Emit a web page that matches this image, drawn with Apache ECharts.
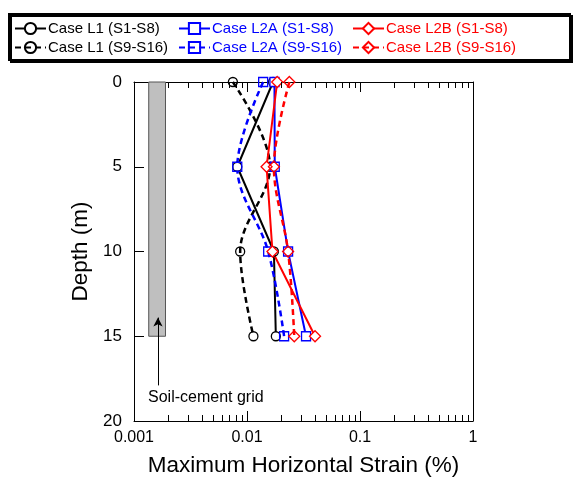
<!DOCTYPE html>
<html>
<head>
<meta charset="utf-8">
<script src="https://cdn.jsdelivr.net/npm/echarts@6/dist/echarts.min.js"></script>
<style>
  html, body { margin: 0; padding: 0; background: #fff; }
  #main { width: 576px; height: 479px; }
</style>
</head>
<body>
<div id="main"></div>
<script>
// depth of the readings (m)
var depths = [0, 5, 10, 15]
// maximum horizontal strain (%)
var l1_s1 = [0.0170, 0.0082, 0.0173, 0.0180]
var l1_s9 = [0.0075, 0.0160, 0.0087, 0.0114]
var l2a_s1 = [0.0175, 0.0176, 0.0231, 0.0333]
var l2a_s9 = [0.0139, 0.0082, 0.0154, 0.0213]
var l2b_s1 = [0.0185, 0.0149, 0.0168, 0.0400]
var l2b_s9 = [0.0237, 0.0173, 0.0231, 0.0262]

var seriesNames = ['Case L1 (S1-S8)', 'Case L1 (S9-S16)', 'Case L2A (S1-S8)', 'Case L2A (S9-S16)', 'Case L2B (S1-S8)', 'Case L2B (S9-S16)']

// soil-cement grid band: strain from/to, depth from/to
var gridStrain = [0.00135, 0.0019]
var gridDepth = [0, 15]
var arrowStrain = 0.00163
var arrowDepth = [17.9, 13.9]

var xTicks = [0.001, 0.01, 0.1, 1]
var yInnerTicks = [5, 10, 15]
var minorTicks = []
for (var d = 0.001; d < 1; d *= 10) {
  for (var k = 2; k <= 9; k++) minorTicks.push(+(d * k).toPrecision(3))
}

var BLACK = '#000', BLUE = '#0000ff', RED = '#ff0000'
var FONT = 'Liberation Sans, Arial, sans-serif'

function pairs(xs){
  return xs.map(function(v, i){ return [v, depths[i]] })
}

function mkSeries(name, xs, color, dashed, symbol, size){
  return {
    name: name,
    type: 'line',
    data: pairs(xs),
    smooth: dashed ? 0.35 : false,
    symbol: symbol,
    symbolSize: size,
    lineStyle: { color: color, width: dashed ? 2.5 : 2, type: dashed ? [6, 4] : 'solid' },
    itemStyle: { color: dashed ? 'rgba(255,255,255,0)' : '#fff', borderColor: color, borderWidth: 1.3 },
    z: 3
  }
}

var series = [
  mkSeries(seriesNames[0], l1_s1, BLACK, false, 'circle', 9),
  mkSeries(seriesNames[1], l1_s9, BLACK, true, 'circle', 9),
  mkSeries(seriesNames[2], l2a_s1, BLUE, false, 'rect', 9),
  mkSeries(seriesNames[3], l2a_s9, BLUE, true, 'rect', 9),
  mkSeries(seriesNames[4], l2b_s1, RED, false, 'diamond', 11),
  mkSeries(seriesNames[5], l2b_s9, RED, true, 'diamond', 11)
]
// grey band and arrow for the soil-cement grid
series.push({
  type: 'line',
  data: [],
  markArea: {
    silent: true,
    itemStyle: { color: '#bfbfbf', borderColor: '#555', borderWidth: 1 },
    data: [[{ coord: [gridStrain[0], gridDepth[0]] }, { coord: [gridStrain[1], gridDepth[1]] }]]
  },
  markLine: {
    silent: true,
    symbol: ['none', 'arrow'],
    symbolSize: [7, 9],
    lineStyle: { color: '#000', width: 1, type: 'solid' },
    label: { show: false },
    data: [[{ coord: [arrowStrain, arrowDepth[0]] }, { coord: [arrowStrain, arrowDepth[1]] }]]
  },
  z: 1
})

// inward frame ticks (major 10px, minor 6px), drawn through the axes' scales
var depthPerPx = 20 / 339
var decadePerPx = 1 / 113
var tickSegs = []
function xTick(v, px){
  var len = px * depthPerPx
  tickSegs.push([{ coord: [v, 20] }, { coord: [v, 20 - len] }])
  tickSegs.push([{ coord: [v, 0] }, { coord: [v, len] }])
}
xTicks.slice(1, -1).forEach(function(v){ xTick(v, 10) })
minorTicks.forEach(function(v){ xTick(v, 6) })
yInnerTicks.forEach(function(y){
  tickSegs.push([{ coord: [0.001, y] }, { coord: [0.001 * Math.pow(10, 10 * decadePerPx), y] }])
})
series.push({
  type: 'line',
  data: [],
  markLine: {
    silent: true,
    symbol: ['none', 'none'],
    lineStyle: { color: '#000', width: 1, type: 'solid' },
    label: { show: false },
    emphasis: { disabled: true },
    data: tickSegs
  },
  z: 2
})

function legendCol(left, names, color){
  return {
    orient: 'vertical',
    left: left,
    top: 21,
    itemWidth: 31,
    itemHeight: 14,
    itemGap: 4,
    padding: 0,
    selectedMode: false,
    data: names.map(function(n){ return { name: n, textStyle: { color: color } } }),
    textStyle: { fontFamily: FONT, fontSize: 15, padding: [0, 0, 0, -3] }
  }
}

function xAx(pos){
  var labelled = pos === 'bottom'
  var ax = {
    type: 'log',
    min: 0.001,
    max: 1,
    position: pos,
    axisLine: { show: true, onZero: false, lineStyle: { color: '#000' } },
    axisTick: { show: false },
    axisLabel: labelled
      ? { customValues: xTicks, formatter: function(v){ return String(v) }, color: '#000', margin: 9, fontFamily: FONT, fontSize: 16 }
      : { show: false },
    splitLine: { show: false }
  }
  if (labelled) {
    ax.name = 'Maximum Horizontal Strain (%)'
    ax.nameLocation = 'middle'
    ax.nameGap = 33
    ax.nameTextStyle = { fontFamily: FONT, fontSize: 22.5, color: '#000' }
  }
  return ax
}

var myChart = echarts.init(document.getElementById('main'))
myChart.setOption({
  animation: false,
  grid: { left: 134, right: 103, top: 82, bottom: 58, containLabel: false, outerBoundsMode: 'none' },
  graphic: [{
    type: 'rect',
    shape: { x: 9, y: 14, width: 561, height: 46 },
    style: { fill: '#fff', stroke: '#000', lineWidth: 2, shadowColor: '#000', shadowOffsetX: 2, shadowOffsetY: 2, shadowBlur: 0 },
    z: -1
  }, {
    type: 'text',
    left: 148,
    top: 390,
    style: { text: 'Soil-cement grid', fontFamily: FONT, fontSize: 16, fill: '#000' }
  }],
  legend: [
    legendCol(14, [seriesNames[0], seriesNames[1]], BLACK),
    legendCol(178, [seriesNames[2], seriesNames[3]], BLUE),
    legendCol(352, [seriesNames[4], seriesNames[5]], RED)
  ],
  xAxis: [xAx('bottom'), xAx('top')],
  yAxis: [{
    type: 'value',
    inverse: true,
    min: 0,
    max: 20,
    interval: 5,
    position: 'left',
    axisLine: { show: true, onZero: false, lineStyle: { color: '#000' } },
    axisTick: { show: false },
    axisLabel: { margin: 12, color: '#000', fontFamily: FONT, fontSize: 17 },
    splitLine: { show: false },
    name: 'Depth (m)',
    nameLocation: 'middle',
    nameGap: 40,
    nameTextStyle: { fontFamily: FONT, fontSize: 22.5, color: '#000' }
  }, {
    type: 'value',
    inverse: true,
    min: 0,
    max: 20,
    position: 'right',
    axisLine: { show: true, onZero: false, lineStyle: { color: '#000' } },
    axisTick: { show: false },
    axisLabel: { show: false },
    splitLine: { show: false }
  }],
  series: series
})
</script>
</body>
</html>
